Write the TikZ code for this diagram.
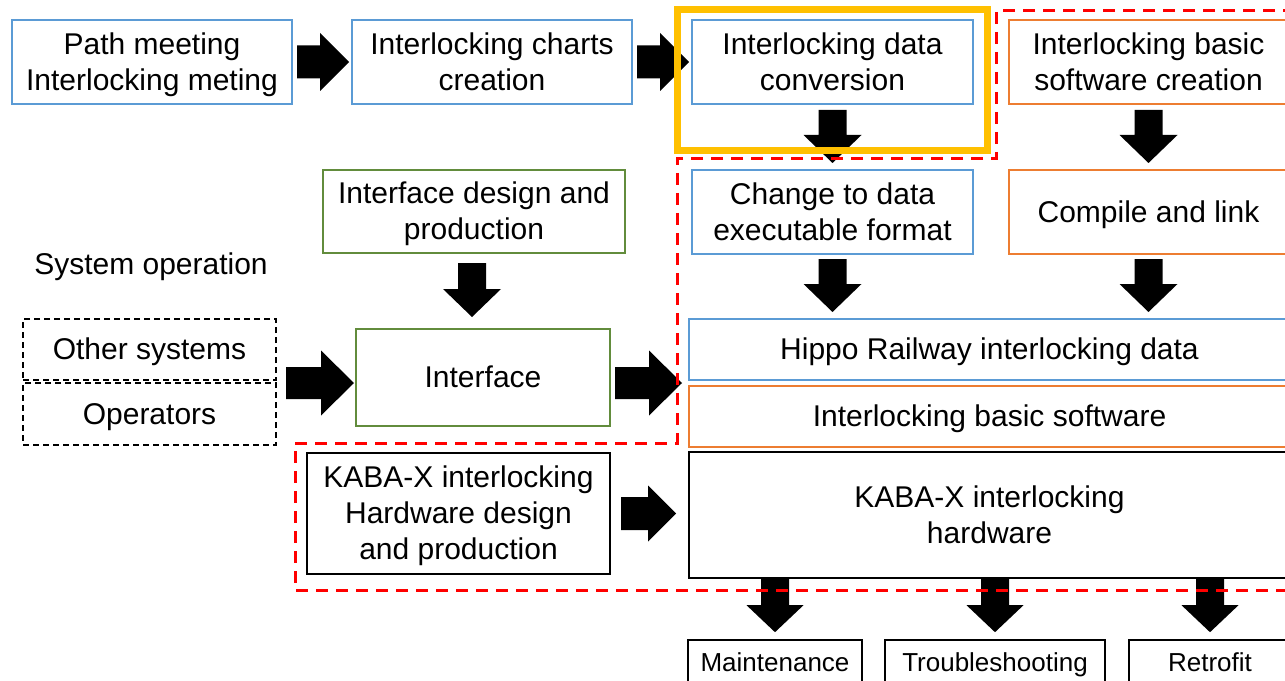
\documentclass[tikz,border=0pt]{standalone}
\usepackage{fontspec}
\setmainfont{Liberation Sans}
\usetikzlibrary{calc}

% one unit of the drawing grid
\newdimen\upx \upx=0.75pt
% strut with the ascent and descent of the font, so text sits centred like in a slide
\newcommand\pptstrut{\vrule width 0pt height 0.905em depth 0.212em\relax}

\definecolor{boxblue}{HTML}{5B9BD5}
\definecolor{boxorange}{HTML}{ED7D31}
\definecolor{boxgreen}{RGB}{98,140,60}
\definecolor{frameyellow}{HTML}{FFC000}
\definecolor{zonered}{HTML}{FF0000}

% block arrow pointing right: start, tip, shaft half-width, head half-width, head length
\newcommand\rblock[5]{%
  \fill let \p1=#1, \p2=#2 in
    (\x1,{\y1+#3*0.75pt}) -- ({\x2-#5*0.75pt},{\y1+#3*0.75pt})
    -- ({\x2-#5*0.75pt},{\y1+#4*0.75pt}) -- (\x2,\y1)
    -- ({\x2-#5*0.75pt},{\y1-#4*0.75pt}) -- ({\x2-#5*0.75pt},{\y1-#3*0.75pt})
    -- (\x1,{\y1-#3*0.75pt}) -- cycle;}
% block arrow pointing down: start, tip, shaft half-width, head half-width, head length
\newcommand\dblock[5]{%
  \fill let \p1=#1, \p2=#2 in
    ({\x1-#3*0.75pt},\y1) -- ({\x1-#3*0.75pt},{\y2+#5*0.75pt})
    -- ({\x1-#4*0.75pt},{\y2+#5*0.75pt}) -- (\x1,\y2)
    -- ({\x1+#4*0.75pt},{\y2+#5*0.75pt}) -- ({\x1+#3*0.75pt},{\y2+#5*0.75pt})
    -- ({\x1+#3*0.75pt},\y1) -- cycle;}

\tikzset{
  textfont/.style={font=\fontsize{22.5pt}{27pt}\selectfont},
  plain/.style={inner sep=0pt, align=center, textfont,
    execute at begin node=\pptstrut, execute at end node=\pptstrut},
  box/.style={plain, draw, line width=1.5pt},
  bluebox/.style={box, draw=boxblue},
  orangebox/.style={box, draw=boxorange},
  greenbox/.style={box, draw=boxgreen},
  blackbox/.style={box, draw=black},
  dashbox/.style={box, draw=black, dash pattern=on 4.5pt off 3pt},
  smallbox/.style={blackbox, line width=1.2pt, font=\fontsize{19.5pt}{23.4pt}\selectfont},
  sized/.style 2 args={minimum width=#1\upx, minimum height=#2\upx},
  zone/.style={draw=zonered, line width=2.25pt, dash pattern=on 9pt off 6pt},
  highlight/.style={draw=frameyellow, line width=5.25pt},
}

\begin{document}
\begin{tikzpicture}[x=0.75pt, y=-0.75pt]
\useasboundingbox (0,0) rectangle (1285,681);
\clip (0,0) rectangle (1285,681);

% process boxes
\node[bluebox, sized={280}{84}] (A) at (152,62) {\pptstrut Path meeting\\Interlocking meting};
\node[bluebox, sized={280}{84}] (B) at (492,62) {\pptstrut Interlocking charts\\creation};
\node[bluebox, sized={281}{84}] (C) at (832.5,62) {\pptstrut Interlocking data\\conversion};
\node[orangebox, sized={279}{84}] (D) at (1148.5,62) {\pptstrut Interlocking basic\\software creation};
\node[bluebox, sized={281}{84}] (Chg) at (832.5,212) {\pptstrut Change to data\\executable format};
\node[orangebox, sized={279}{84}] (Cmp) at (1148.5,212) {Compile and link};
\node[greenbox, sized={302}{83}] (IfD) at (474,211.5) {\pptstrut Interface design and\\production};
\node[plain] (Sys) at (151,264) {System operation};
\node[dashbox, sized={253}{61}] (Oth) at (149.5,349.5) {Other systems};
\node[dashbox, sized={253}{62}] (Opr) at (149.5,414) {Operators};
\node[greenbox, sized={254}{97}] (Ifc) at (483,377.5) {Interface};
\node[bluebox, sized={601}{61}] (Hip) at (989.5,349.5) {Hippo Railway interlocking data};
\node[orangebox, sized={601}{61}] (Bsw) at (989.5,416.5) {Interlocking basic software};
\node[blackbox, sized={601}{126}] (Khw) at (989.5,515) {\pptstrut KABA-X interlocking\\hardware};
\node[blackbox, sized={303}{121}] (Kd) at (458.5,513.5) {\pptstrut KABA-X interlocking\\Hardware design\\and production};
\node[smallbox, sized={174}{44}] (Mnt) at (775,662) {Maintenance};
\node[smallbox, sized={220}{44}] (Tsh) at (995,662) {Troubleshooting};
\node[smallbox, sized={162}{44}] (Rtf) at (1210,662) {Retrofit};

% block arrows
\rblock{($(A.east)+(4,0)$)}{($(B.west)+(-2,0)$)}{16.5}{29}{29}
\rblock{($(B.east)+(4,0)$)}{($(C.west)+(-2,0)$)}{16.5}{29}{29}
\dblock{($(C.south)+(0,5)$)}{($(Chg.north)+(0,-6)$)}{14}{29}{28}
\dblock{($(D.south)+(0,5)$)}{($(Cmp.north)+(0,-6)$)}{14}{29}{28}
\dblock{($(Chg.south)+(0,4)$)}{($(Chg.south |- Hip.north)+(0,-6)$)}{14}{29}{28}
\dblock{($(Cmp.south)+(0,4)$)}{($(Cmp.south |- Hip.north)+(0,-6)$)}{14}{29}{28}
\dblock{($(IfD.south)+(-2,9)$)}{($(IfD.south |- Ifc.north)+(-2,-11)$)}{14}{29}{28}
\rblock{($(Oth.south east)+(9,2)$)}{($(Ifc.west |- Oth.south east)+(-1,2)$)}{16}{32.5}{33}
\rblock{($(Ifc.east |- Oth.south east)+(4,2)$)}{($(Hip.west |- Oth.south east)+(-6,2)$)}{16}{32.5}{33}
\rblock{($(Kd.east)+(10,0)$)}{($(Khw.west |- Kd.east)+(-12,0)$)}{16.5}{28}{28}
\dblock{(Khw.south -| Mnt.north)}{($(Mnt.north)+(0,-7)$)}{14}{28.5}{27}
\dblock{(Khw.south -| Tsh.north)}{($(Tsh.north)+(0,-7)$)}{14}{28.5}{27}
\dblock{(Khw.south -| Rtf.north)}{($(Rtf.north)+(0,-7)$)}{14}{28.5}{27}

% highlighted conversion step
\draw[highlight] (677,10) rectangle (987,151);

% dashed zone outline
\draw[zone] (1295,11) -- (996,11) -- (996,159) -- (677,159) -- (677,443)
  -- (295,443) -- (295,590) -- (1295,590);
\end{tikzpicture}
\end{document}
